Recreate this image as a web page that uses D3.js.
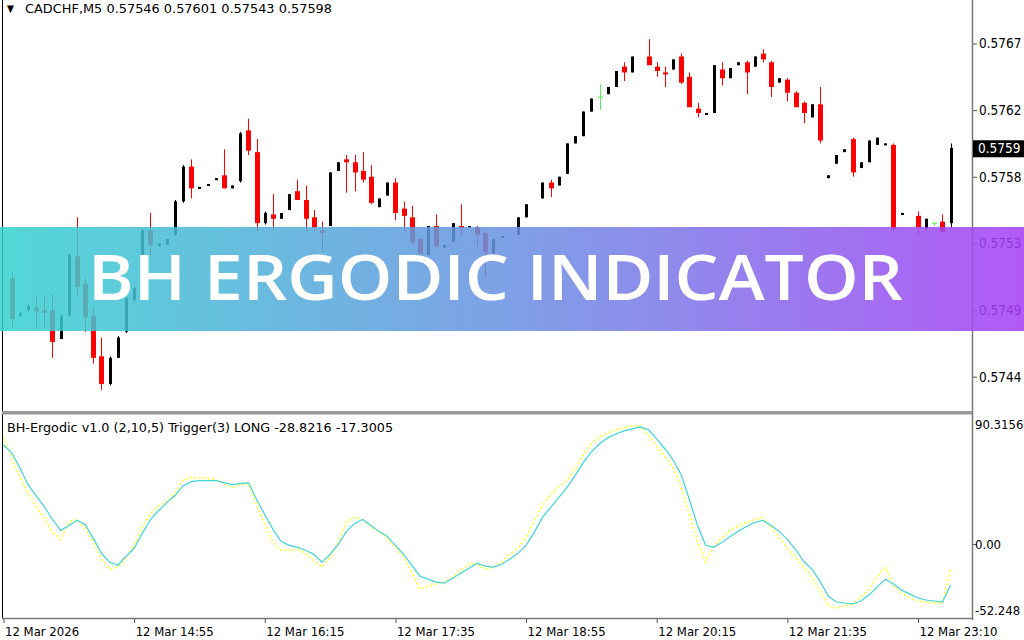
<!DOCTYPE html>
<html>
<head>
<meta charset="utf-8">
<script src="https://cdn.jsdelivr.net/npm/d3@7"></script>
<style>
  body { margin: 0; background: #fff; }
  svg { display: block; font-family: Tahoma, "DejaVu Sans Condensed", "DejaVu Sans", sans-serif; }
</style>
</head>
<body>
<div id="chart"></div>
<script>
// CADCHF M5 candles (first slot is the half-hidden bar at the left edge)
const opens = [null,
  0.57508,0.57482,0.57486,0.57488,0.57486,0.57486,0.57466,0.57482,0.57523,0.57504,
  0.57482,0.57454,0.57435,0.57453,0.57471,0.57493,0.57524,0.57541,0.57530,0.57531,
  0.57538,0.57561,0.57585,0.57570,0.57572,0.57576,0.57579,0.57570,0.57575,0.57610,
  0.57595,0.57546,0.57552,0.57549,0.57555,0.57568,0.57562,0.57550,0.57541,0.57544,
  0.57582,0.57590,0.57588,0.57582,0.57578,0.57557,0.57565,0.57574,0.57556,0.57550,
  0.57535,0.57524,0.57544,0.57529,0.57533,0.57544,0.57543,0.57543,0.57539,0.57525,
  0.57536,null,0.57538,0.57550,null,0.57563,0.57574,0.57572,0.57580,0.57601,
  0.57606,0.57623,0.57633,0.57635,0.57640,0.57654,0.57650,null,0.57661,0.57654,
  0.57650,0.57652,0.57661,0.57647,0.57625,0.57621,0.57622,0.57652,0.57646,0.57655,
  0.57657,0.57654,0.57663,0.57657,0.57643,0.57645,0.57636,0.57629,0.57619,0.57628,
  0.57577,0.57587,0.57595,0.57604,0.57584,0.57588,0.57600,0.57600,0.57600,0.57552,
  null,0.57551,0.57542,0.57546,0.57547,0.57546];

const highs = [null,
  0.57512,0.57485,0.57490,0.57495,0.57495,0.57497,0.57483,0.57525,0.57550,0.57508,
  0.57488,0.57467,0.57454,0.57468,0.57495,0.57502,0.57542,0.57553,0.57532,0.57535,
  0.57562,0.57586,0.57590,0.57571,0.57573,0.57577,0.57597,0.57572,0.57609,0.57618,
  0.57604,0.57554,0.57566,0.57553,0.57566,0.57576,0.57572,0.57555,0.57547,0.57581,
  0.57588,0.57593,0.57593,0.57595,0.57586,0.57563,0.57574,0.57577,0.57561,0.57558,
  0.57536,0.57544,0.57552,0.57531,0.57546,0.57559,0.57544,0.57544,0.57540,0.57535,
  0.57537,null,0.57550,0.57559,null,0.57574,0.57576,0.57578,0.57601,0.57606,
  0.57623,0.57632,0.57642,0.57640,0.57651,0.57657,0.57661,null,0.57673,0.57657,
  0.57654,0.57659,0.57663,0.57650,0.57629,0.57622,0.57655,0.57657,0.57653,0.57657,
  0.57658,0.57661,0.57666,0.57658,0.57646,0.57646,0.57637,0.57630,0.57628,0.57640,
  0.57579,0.57593,0.57597,0.57605,0.57588,0.57603,0.57605,0.57601,0.57601,0.57553,
  null,0.57554,0.57549,0.57546,0.57552,0.57601];

const lows = [null,
  0.57474,0.57481,0.57485,0.57473,0.57474,0.57453,0.57466,0.57482,0.57495,0.57471,
  0.57449,0.57431,0.57434,0.57453,0.57470,0.57492,0.57523,0.57524,0.57530,0.57531,
  0.57537,0.57560,0.57563,0.57570,0.57572,0.57576,0.57570,0.57570,0.57574,0.57593,
  0.57540,0.57545,0.57541,0.57549,0.57555,0.57562,0.57539,0.57540,0.57526,0.57544,
  0.57582,0.57567,0.57568,0.57574,0.57559,0.57557,0.57565,0.57548,0.57539,0.57531,
  0.57524,0.57524,0.57529,0.57529,0.57533,0.57538,0.57543,0.57530,0.57509,0.57525,
  0.57536,null,0.57538,0.57550,null,0.57563,0.57564,0.57572,0.57580,0.57601,
  0.57606,0.57623,0.57624,0.57635,0.57640,0.57644,0.57650,null,0.57655,0.57647,
  0.57640,0.57652,0.57642,0.57626,0.57619,0.57621,0.57622,0.57641,0.57646,0.57655,
  0.57635,0.57654,0.57657,0.57633,0.57643,0.57630,0.57626,0.57615,0.57619,0.57601,
  0.57577,0.57587,0.57595,0.57578,0.57584,0.57588,0.57600,0.57600,0.57540,0.57552,
  null,0.57538,0.57542,0.57544,0.57540,0.57543];

const closes = [null,
  0.57480,0.57484,0.57489,0.57485,0.57484,0.57464,0.57482,0.57524,0.57502,0.57481,
  0.57453,0.57435,0.57453,0.57467,0.57494,0.57501,0.57541,0.57531,0.57532,0.57535,
  0.57561,0.57585,0.57570,0.57571,0.57573,0.57577,0.57570,0.57572,0.57608,0.57596,
  0.57546,0.57553,0.57549,0.57553,0.57566,0.57562,0.57549,0.57543,0.57539,0.57581,
  0.57588,0.57588,0.57581,0.57576,0.57560,0.57563,0.57574,0.57553,0.57551,0.57533,
  0.57525,0.57544,0.57530,0.57531,0.57546,0.57543,0.57544,0.57538,0.57526,0.57535,
  0.57537,null,0.57550,0.57559,null,0.57574,0.57570,0.57578,0.57601,0.57606,
  0.57623,0.57632,0.57633,0.57640,0.57651,0.57650,0.57661,null,0.57655,0.57651,
  0.57649,0.57659,0.57643,0.57626,0.57622,0.57622,0.57655,0.57646,0.57653,0.57657,
  0.57650,0.57661,0.57659,0.57640,0.57646,0.57636,0.57626,0.57622,0.57628,0.57603,
  0.57579,0.57593,0.57597,0.57581,0.57588,0.57603,0.57605,0.57601,0.57542,0.57553,
  null,0.57543,0.57549,0.57546,0.57540,0.57598];

// BH-Ergodic main line and trigger, one value per bar
const ergodic = [70.6,
  64.9,54.3,42.3,34.6,26.8,17.6,9.9,13.4,16.9,14.1,
  4.2,-6.4,-12.7,-14.8,-8.5,-2.8,7.8,17.6,24.0,29.6,
  34.6,41.6,44.5,45.2,45.2,45.2,43.8,42.3,43.1,43.8,
  31.8,21.2,10.6,2.1,-0.7,-2.1,-4.2,-7.1,-12.7,-7.1,
  0.0,9.2,14.8,17.6,13.4,9.2,5.6,-0.7,-7.1,-14.8,
  -22.6,-24.7,-26.8,-27.5,-24.0,-20.5,-16.9,-13.4,-15.5,-16.2,
  -14.1,-10.6,-6.4,-0.7,8.5,19.1,26.1,33.2,40.2,48.7,
  57.9,65.6,71.3,75.5,78.3,80.5,81.9,83.3,81.2,74.8,
  67.8,60.0,49.4,31.8,13.4,-0.7,-2.1,1.4,5.6,9.2,
  12.7,15.5,16.9,13.4,9.2,3.5,-3.5,-12.0,-17.6,-26.1,
  -36.7,-40.9,-41.6,-42.3,-40.2,-36.0,-30.3,-24.7,-28.2,-32.5,
  -35.3,-38.1,-39.5,-40.2,-40.9,-28.8216];

const trigger = [76.2,
  61.4,48.0,36.7,26.8,18.4,8.5,3.5,16.2,17.6,11.3,
  1.4,-10.6,-17.6,-16.2,-9.9,-0.7,12.7,21.9,27.5,30.3,
  36.0,45.9,47.3,47.3,46.6,45.9,43.1,40.2,42.3,43.1,
  28.2,14.1,1.4,-4.2,-4.2,-3.5,-6.4,-11.3,-16.2,-9.2,
  1.4,16.2,19.1,17.6,12.7,9.2,4.2,-2.1,-9.2,-19.8,
  -31.8,-29.6,-28.2,-26.8,-23.3,-18.4,-14.1,-14.1,-17.6,-16.2,
  -12.7,-7.1,-2.8,4.9,16.9,27.5,35.3,40.9,45.2,53.6,
  63.5,71.3,76.2,79.0,81.2,82.6,84.0,84.0,76.9,69.2,
  62.1,55.1,40.2,21.2,2.1,-12.7,-1.4,4.9,10.6,12.7,
  15.5,17.6,19.1,12.0,4.9,-2.8,-9.2,-16.2,-23.3,-33.2,
  -43.8,-45.2,-43.8,-42.3,-37.4,-31.8,-23.3,-16.2,-29.6,-34.6,
  -38.1,-40.2,-40.9,-41.6,-41.6,-17.3005];

// axis ticks
const priceTicks = [0.57670, 0.57624, 0.57578, 0.57532, 0.57486, 0.57440];
const priceLabels = ["0.5767", "0.5762", "0.5758", "0.5753", "0.5749", "0.5744"];
const timeTickBars = [0, 16, 32, 48, 64, 80, 96, 112];
const timeLabels = ["12 Mar 2026", "12 Mar 14:55", "12 Mar 16:15", "12 Mar 17:35",
  "12 Mar 18:55", "12 Mar 20:15", "12 Mar 21:35", "12 Mar 23:10"];
const indLabels = ["90.3156", "0.00", "-52.248"];
const lastPrice = 0.57598, lastPriceLabel = "0.5759";

const width = 1024, height = 640;
const axisX = 972,
      mainBottom = 411,
      indTop = 415, indBottom = 618;

const svg = d3.select("#chart").append("svg")
  .attr("width", width)
  .attr("height", height);

let x = d3.scaleLinear()
  .domain([0, opens.length - 1])
  .range([3.5, 3.5 + 8.165 * (opens.length - 1)]);

let y = d3.scaleLinear()
  .domain([0.57417, 0.57700])
  .range([410, 0]);

let yInd = d3.scaleLinear()
  .domain([-52.248, 90.3156])
  .range([618, 417]);

const defs = svg.append("defs");
defs.append("clipPath").attr("id", "clipMain")
  .append("rect").attr("x", 3).attr("y", 0).attr("width", axisX - 3).attr("height", mainBottom);
defs.append("clipPath").attr("id", "clipInd")
  .append("rect").attr("x", 3).attr("y", indTop).attr("width", axisX - 3).attr("height", indBottom - indTop);

// candles
const bars = opens.map((o, i) => ({ i: i, o: o, h: highs[i], l: lows[i], c: closes[i] }))
  .filter(d => d.o != null);

const colorOf = d => d.c > d.o ? "#000000" : (d.c < d.o ? "#ff0000" : "#5cf25c");

const candles = svg.append("g").attr("clip-path", "url(#clipMain)");

candles.selectAll("line.wick")
  .data(bars)
  .join("line")
  .attr("class", "wick")
  .attr("x1", d => Math.round(x(d.i)) + 0.5)
  .attr("x2", d => Math.round(x(d.i)) + 0.5)
  .attr("y1", d => y(d.h))
  .attr("y2", d => y(d.l))
  .attr("stroke", colorOf)
  .attr("stroke-width", 1);

candles.selectAll("rect.body")
  .data(bars)
  .join("rect")
  .attr("class", "body")
  .attr("x", d => Math.round(x(d.i)) - (d.c > d.o ? 1 : 2))
  .attr("width", d => d.c > d.o ? 3 : 5)
  .attr("y", d => d.c === d.o ? y(d.o) - 0.5 : y(Math.max(d.o, d.c)))
  .attr("height", d => d.c === d.o ? 1.2 : Math.max(2, Math.abs(y(d.o) - y(d.c))))
  .attr("fill", colorOf);

// frame lines
svg.append("line")
  .attr("x1", 2.5).attr("x2", 2.5).attr("y1", 0).attr("y2", indBottom)
  .attr("stroke", "#000");
svg.append("line")
  .attr("x1", axisX + 0.5).attr("x2", axisX + 0.5).attr("y1", 0).attr("y2", indBottom + 2)
  .attr("stroke", "#777").attr("stroke-width", 1.5);
svg.append("rect")
  .attr("x", 2).attr("y", mainBottom).attr("width", axisX - 2).attr("height", 3.5)
  .attr("fill", "#999");
svg.append("line")
  .attr("x1", 2).attr("x2", axisX + 1).attr("y1", indBottom + 0.5).attr("y2", indBottom + 0.5)
  .attr("stroke", "#777").attr("stroke-width", 1.5);

// price axis
svg.append("g")
  .attr("transform", `translate(${axisX + 1},0)`)
  .call(d3.axisRight(y)
    .tickValues(priceTicks)
    .tickSize(4)
    .tickPadding(2)
    .tickFormat((d, i) => priceLabels[i]))
  .call(g => g.select(".domain").remove())
  .call(g => g.selectAll("line").attr("stroke", "#555"))
  .call(g => g.selectAll("text")
    .attr("fill", "#000")
    .attr("font-size", "13.5px")
    .attr("font-family", 'Tahoma, "DejaVu Sans Condensed", "DejaVu Sans", sans-serif'));

// last price box
svg.append("rect")
  .attr("x", axisX + 1).attr("y", y(lastPrice) - 7.5)
  .attr("width", width - axisX - 1).attr("height", 17)
  .attr("fill", "#000");
svg.append("text")
  .attr("x", axisX + 6).attr("y", y(lastPrice) + 1)
  .attr("dominant-baseline", "middle")
  .attr("fill", "#fff")
  .attr("font-size", "13.5px")
  .text(lastPriceLabel);

// time axis
svg.append("g")
  .attr("transform", `translate(0,${indBottom + 1})`)
  .call(d3.axisBottom(x)
    .tickValues(timeTickBars)
    .tickSize(4)
    .tickFormat((d, i) => timeLabels[i]))
  .call(g => g.select(".domain").remove())
  .call(g => g.selectAll("line").attr("stroke", "#555"))
  .call(g => g.selectAll("text")
    .attr("text-anchor", "start")
    .attr("dx", "1")
    .attr("y", 8)
    .attr("dy", "0.71em")
    .attr("fill", "#000")
    .attr("font-size", "13px")
    .attr("font-family", 'Tahoma, "DejaVu Sans Condensed", "DejaVu Sans", sans-serif'));

// indicator axis
svg.append("line")
  .attr("x1", axisX + 1).attr("x2", axisX + 5)
  .attr("y1", Math.round(yInd(0)) + 0.5).attr("y2", Math.round(yInd(0)) + 0.5)
  .attr("stroke", "#555");
svg.selectAll("text.indlab")
  .data([90.3156, 0, -52.248])
  .join("text")
  .attr("class", "indlab")
  .attr("x", axisX + 3)
  .attr("y", (d, i) => i === 0 ? yInd(d) + 8 : (i === 2 ? yInd(d) - 7 : yInd(d) + 1))
  .attr("dominant-baseline", "middle")
  .attr("font-size", "13px")
  .attr("fill", "#000")
  .text((d, i) => indLabels[i]);

// indicator lines
let indLine = d3.line()
  .x((d, i) => x(i))
  .y(d => yInd(d));

const ind = svg.append("g").attr("clip-path", "url(#clipInd)");
ind.append("path")
  .datum(trigger)
  .attr("fill", "none")
  .attr("stroke", "#ffff3a")
  .attr("stroke-width", 1.8)
  .attr("stroke-dasharray", "2,2.5")
  .attr("d", indLine);
ind.append("path")
  .datum(ergodic)
  .attr("fill", "none")
  .attr("stroke", "#3fd4da")
  .attr("stroke-width", 1.2)
  .attr("d", indLine);

// titles
svg.append("text")
  .attr("x", 7).attr("y", 9)
  .attr("dominant-baseline", "middle")
  .attr("font-size", "10px")
  .text("▼");
svg.append("text")
  .attr("x", 25).attr("y", 9)
  .attr("dominant-baseline", "middle")
  .attr("font-size", "13px")
  .attr("textLength", 307)
  .attr("lengthAdjust", "spacingAndGlyphs")
  .text("CADCHF,M5  0.57546 0.57601 0.57543 0.57598");
svg.append("text")
  .attr("x", 7).attr("y", 428)
  .attr("dominant-baseline", "middle")
  .attr("font-size", "13px")
  .attr("textLength", 386)
  .attr("lengthAdjust", "spacingAndGlyphs")
  .text("BH-Ergodic v1.0 (2,10,5) Trigger(3) LONG -28.8216 -17.3005");

// banner
const grad = defs.append("linearGradient").attr("id", "bannerGrad")
  .attr("x1", "0%").attr("x2", "100%").attr("y1", "0%").attr("y2", "0%");
grad.append("stop").attr("offset", "0%").attr("stop-color", "#36d2d0");
grad.append("stop").attr("offset", "50%").attr("stop-color", "#6a90e2");
grad.append("stop").attr("offset", "100%").attr("stop-color", "#a63ff6");

svg.append("rect")
  .attr("x", 0).attr("y", 227)
  .attr("width", width).attr("height", 104)
  .attr("fill", "url(#bannerGrad)")
  .attr("opacity", 0.86);

svg.append("text")
  .attr("x", 88).attr("y", 300)
  .attr("font-family", '"Open Sans", Lato, sans-serif')
  .attr("font-weight", 600)
  .attr("font-size", "63px")
  .attr("fill", "#fff")
  .attr("textLength", 815)
  .attr("lengthAdjust", "spacingAndGlyphs")
  .text("BH ERGODIC INDICATOR");
</script>
</body>
</html>
